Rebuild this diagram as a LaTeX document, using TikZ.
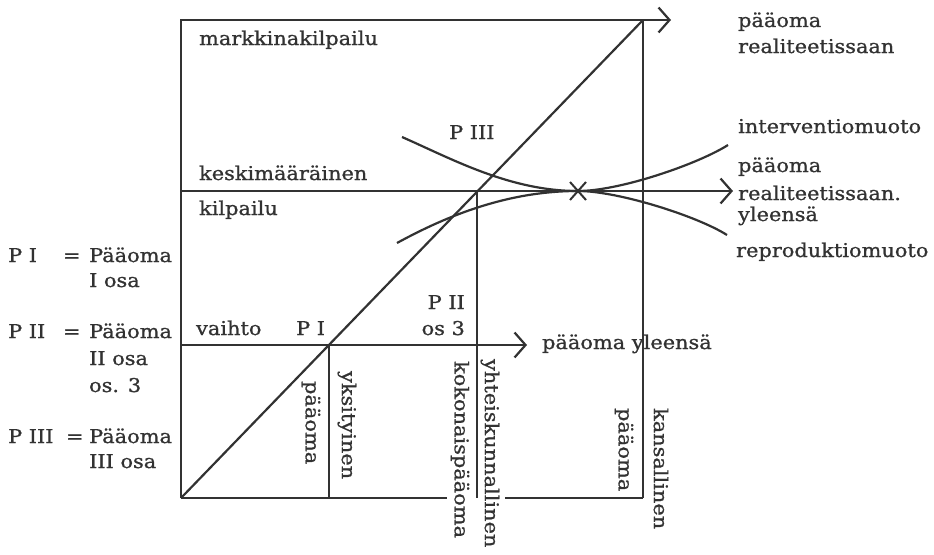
\documentclass[tikz,border=0pt]{standalone}
\usepackage{fontspec}
\setmainfont{DejaVu Serif}[FakeStretch=1.1,FakeBold=1]
\usetikzlibrary{arrows.meta}
\definecolor{ink}{RGB}{50,50,50}
\begin{document}
\begin{tikzpicture}[x=1pt,y=-1pt,line width=2.2pt,color=ink,
  lbl/.style={inner sep=0pt,anchor=base west,font=\fontsize{19}{23}\selectfont,text=ink},
  rlbl/.style={inner sep=0pt,anchor=base east,font=\fontsize{19}{23}\selectfont,text=ink},
  vlbl/.style={inner sep=0pt,anchor=west,rotate=-90,font=\fontsize{19}{23}\selectfont,text=ink},
  arr/.style={-{Straight Barb[length=11pt,width=25pt]}}]
\useasboundingbox (0,0) rectangle (934,554);
% key points
\coordinate (O) at (181,498);
\coordinate (TL) at (181,20);
\coordinate (TR) at (643,20);
\coordinate (BR) at (643,498);
\coordinate (TA) at (671,20);
\coordinate (ML) at (181,191);
\coordinate (MA) at (733,191);
\coordinate (LL) at (181,345);
\coordinate (LA) at (527,345);
\coordinate (P1) at (329,345);
\coordinate (P1b) at (329,498);
\coordinate (P2) at (477,191);
\coordinate (P2b) at (477,498);
\coordinate (G1) at (447,498);
\coordinate (G2) at (505,498);
\coordinate (X) at (578,191);
\coordinate (IL) at (402,137);
\coordinate (IR) at (728,145);
\coordinate (RL) at (397,243);
\coordinate (RR) at (727,235);
% frame and lines
\draw[arr] (O) -- (TL) -- (TA);
\draw (TR) -- (BR);
\draw (O) -- (TR);
\draw[arr] (ML) -- (MA);
\draw[arr] (LL) -- (LA);
\draw (P1) -- (P1b);
\draw (P2) -- (P2b);
\draw (O) -- (G1);
\draw (G2) -- (BR);
% curves
\draw (IL) .. controls (452,159) and (510,191) .. (X) .. controls (620,191) and (698,164) .. (IR);
\draw (RL) .. controls (450,214) and (510,191) .. (X) .. controls (618,191) and (697,216) .. (RR);
% cross
\draw[line width=2pt] ([shift={(-8,-9)}]X) -- ([shift={(8,9)}]X);
\draw[line width=2pt] ([shift={(-8,9)}]X) -- ([shift={(8,-9)}]X);
% texts in the frame
\node[lbl] (mk) at (198,45) {markkinakilpailu};
\node[lbl] (ke) at (198,180) {keskimääräinen};
\node[lbl] (ki) at (198,215) {kilpailu};
\node[lbl] (va) at (195,335) {vaihto};
\node[lbl] (pi) at (295,335) {P I};
\node[lbl] (piii) at (448,139) {P III};
\node[rlbl] (pii) at (466,309) {P II};
\node[rlbl] (os) at (466,335) {os 3};
\node[lbl] (py) at (541,349) {pääoma yleensä};
% right texts
\node[lbl] (r1) at (737,27) {pääoma};
\node[lbl] (r2) at (737,53) {realiteetissaan};
\node[lbl] (r3) at (737,133) {interventiomuoto};
\node[lbl] (r4) at (737,172) {pääoma};
\node[lbl] (r5) at (737,200) {realiteetissaan.};
\node[lbl] (r6) at (737,221) {yleensä};
\node[lbl] (r7) at (735,257) {reproduktiomuoto};
% left legend
\node[lbl] (l1a) at (7,262) {P I};
\node[lbl] (l1b) at (62,262) {=};
\node[lbl] (l1c) at (88,262) {Pääoma};
\node[lbl] (l1d) at (88,287) {I osa};
\node[lbl] (l2a) at (7,338) {P II};
\node[lbl] (l2b) at (62,338) {=};
\node[lbl] (l2c) at (88,338) {Pääoma};
\node[lbl] (l2d) at (88,365) {II osa};
\node[lbl] (l2e) at (88,392) {os. 3};
\node[lbl] (l3a) at (7,443) {P III};
\node[lbl] (l3b) at (65,443) {=};
\node[lbl] (l3c) at (88,443) {Pääoma};
\node[lbl] (l3d) at (88,468) {III osa};
% vertical texts
\node[vlbl] (v1) at (311,380) {pääoma};
\node[vlbl] (v2) at (347,370) {yksityinen};
\node[vlbl] (v3) at (460,360) {kokonaispääoma};
\node[vlbl] (v4) at (490,358) {yhteiskunnallinen};
\node[vlbl] (v5) at (624,407) {pääoma};
\node[vlbl] (v6) at (661,407) {kansallinen};
\end{tikzpicture}
\end{document}
